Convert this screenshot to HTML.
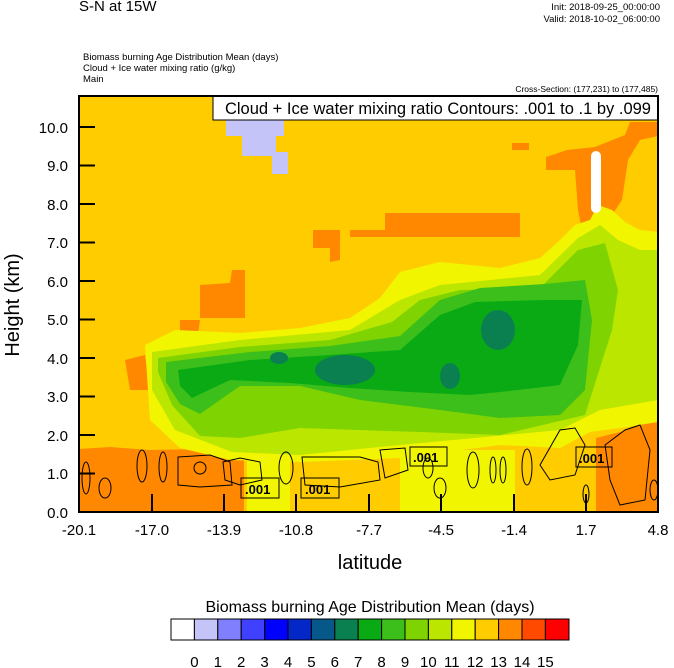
<!DOCTYPE html>
<html><head><meta charset="utf-8"><style>
body{margin:0;background:#fff;width:674px;height:668px;overflow:hidden}
svg{display:block;font-family:"Liberation Sans",sans-serif}
</style></head><body>
<svg width="674" height="668" viewBox="0 0 674 668" xmlns="http://www.w3.org/2000/svg">
<text x="79" y="11" font-size="15">S-N at 15W</text>
<text x="660" y="10" font-size="9.5" text-anchor="end">Init: 2018-09-25_00:00:00</text>
<text x="660" y="22" font-size="9.5" text-anchor="end">Valid: 2018-10-02_06:00:00</text>
<text x="83" y="60" font-size="9.5">Biomass burning Age Distribution Mean   (days)</text>
<text x="83" y="71" font-size="9.5">Cloud + Ice water mixing ratio   (g/kg)</text>
<text x="83" y="82" font-size="9.5">Main</text>
<text x="658" y="92" font-size="8.5" text-anchor="end">Cross-Section: (177,231) to (177,485)</text>
<defs><clipPath id="c"><rect x="79" y="96" width="579" height="416"/></clipPath></defs>
<g clip-path="url(#c)">
<rect x="79" y="96" width="579" height="416" fill="#FFCC00"/>
<rect x="226" y="118" width="58" height="18" fill="#C4C4F8"/>
<rect x="242" y="136" width="34" height="20" fill="#C4C4F8"/>
<rect x="272" y="152" width="16" height="22" fill="#C4C4F8"/>
<path d="M546 157 L567 150 L595 147 L625 135 L630 122 L658 122 L658 136 L640 140 L628 160 L622 200 L610 218 L596 228 L583 236 L578 210 L575 170 L546 170Z" fill="#FF8800"/>
<rect x="512" y="143" width="17" height="7" fill="#FF8800"/>
<path d="M385 213 L520 213 L520 237 L385 237Z" fill="#FF8800"/>
<path d="M313 230 L340 230 L340 260 L330 262 L330 248 L313 248Z" fill="#FF8800"/>
<path d="M350 230 L385 230 L385 237 L350 237Z" fill="#FF8800"/>
<path d="M200 285 L230 283 L232 270 L245 270 L245 318 L200 318Z" fill="#FF8800"/>
<path d="M180 320 L200 320 L195 355 L180 358Z" fill="#FF8800"/>
<path d="M125 360 L145 355 L150 390 L130 390Z" fill="#FF8800"/>
<path d="M79 449 L110 447 L150 450 L200 449 L244 451 L244 512 L79 512Z" fill="#FF8800"/>
<path d="M596 512 L596 438 L620 432 L640 425 L658 420 L658 512Z" fill="#FF8800"/>
<rect x="247" y="455" width="43" height="57" fill="#F2F500"/>
<rect x="400" y="450" width="115" height="62" fill="#F2F500"/>
<path d="M145 345 L175 330 L240 333 L300 328 L350 318 L380 298 L400 272 L440 262 L500 268 L540 258 L560 240 L575 225 L590 220 L598 205 L612 210 L625 222 L640 230 L658 232 L658 422 L620 428 L590 432 L560 448 L500 445 L400 458 L300 462 L230 460 L180 448 L150 420Z" fill="#F2F500"/>
<path d="M152 352 L240 340 L350 330 L400 300 L440 285 L540 275 L578 238 L600 225 L618 240 L640 250 L658 250 L658 400 L600 410 L560 430 L400 445 L300 455 L232 452 L175 430 L152 390Z" fill="#BBE600"/>
<path d="M158 358 L240 347 L330 340 L392 322 L420 300 L460 290 L540 288 L578 250 L605 243 L618 290 L612 330 L585 415 L500 435 L420 432 L300 428 L240 438 L200 436 L172 405 L158 372Z" fill="#7FD300"/>
<path d="M166 362 L250 352 L330 346 L400 336 L440 300 L480 288 L545 284 L585 280 L592 320 L585 390 L560 415 L500 418 L440 410 L360 400 L300 386 L240 386 L200 414 L180 404 L166 382Z" fill="#3CBF1A"/>
<path d="M178 370 L250 360 L330 355 L400 350 L440 315 L475 302 L545 300 L582 300 L578 345 L560 385 L500 392 L470 395 L410 392 L350 388 L290 383 L230 380 L192 398 L180 386Z" fill="#0AAA14"/>
<g fill="#0A8050">
<ellipse cx="498" cy="330" rx="17" ry="20"/>
<ellipse cx="345" cy="370" rx="30" ry="15"/>
<ellipse cx="450" cy="376" rx="10" ry="13"/>
<ellipse cx="279" cy="358" rx="9" ry="6"/>
</g>
<rect x="591" y="151" width="10" height="62" rx="5" fill="#fff"/>
<g fill="none" stroke="#000" stroke-width="1">
<ellipse cx="86" cy="478" rx="4" ry="16"/>
<ellipse cx="105" cy="488" rx="6" ry="10"/>
<ellipse cx="142" cy="466" rx="5" ry="16"/>
<ellipse cx="163" cy="467" rx="4" ry="15"/>
<path d="M178 457 L210 455 L230 462 L232 485 L200 487 L178 485Z"/>
<ellipse cx="200" cy="468" rx="6" ry="6"/>
<path d="M223 462 L240 458 L260 462 L262 480 L240 485 L225 480Z"/>
<ellipse cx="286" cy="468" rx="7" ry="16"/>
<path d="M302 457 L360 457 L378 462 L380 480 L340 487 L305 485Z"/>
<path d="M380 450 L405 448 L408 470 L385 478Z"/>
<ellipse cx="428" cy="468" rx="5" ry="10"/>
<ellipse cx="440" cy="488" rx="6" ry="10"/>
<ellipse cx="473" cy="470" rx="6" ry="18"/>
<ellipse cx="493" cy="470" rx="3" ry="13"/>
<ellipse cx="503" cy="470" rx="3" ry="13"/>
<ellipse cx="527" cy="467" rx="5" ry="18"/>
<path d="M540 465 L560 430 L575 428 L585 445 L575 475 L550 480Z"/>
<ellipse cx="586" cy="494" rx="3" ry="9"/>
<path d="M605 445 L625 430 L640 425 L650 450 L645 500 L620 505 L610 480Z"/>
<ellipse cx="654" cy="490" rx="4" ry="10"/>
</g>
<g font-size="13" font-weight="bold">
<rect x="241" y="478" width="38" height="20" fill="none" stroke="#000"/><text x="245" y="494">.001</text>
<rect x="301" y="478" width="38" height="20" fill="none" stroke="#000"/><text x="305" y="494">.001</text>
<rect x="410" y="447" width="37" height="19" fill="none" stroke="#000"/><text x="413" y="462">.001</text>
<rect x="576" y="447" width="36" height="20" fill="none" stroke="#000"/><text x="579" y="463">.001</text>
</g>
</g>
<rect x="213" y="96" width="445" height="24" fill="#fff" stroke="#000"/>
<text x="651" y="114" font-size="16.5" text-anchor="end">Cloud + Ice water mixing ratio Contours: .001 to .1 by .099</text>
<rect x="79" y="96" width="579" height="416" fill="none" stroke="#000" stroke-width="2"/>
<g stroke="#000" stroke-width="2">
<line x1="79" y1="127" x2="95" y2="127"/><line x1="79" y1="165.5" x2="95" y2="165.5"/><line x1="79" y1="204" x2="95" y2="204"/><line x1="79" y1="242.5" x2="95" y2="242.5"/><line x1="79" y1="281" x2="95" y2="281"/><line x1="79" y1="319.5" x2="95" y2="319.5"/><line x1="79" y1="358" x2="95" y2="358"/><line x1="79" y1="396.5" x2="95" y2="396.5"/><line x1="79" y1="435" x2="95" y2="435"/><line x1="79" y1="473.5" x2="95" y2="473.5"/>
<line x1="152" y1="512" x2="152" y2="494"/><line x1="224" y1="512" x2="224" y2="494"/><line x1="296" y1="512" x2="296" y2="494"/><line x1="369" y1="512" x2="369" y2="494"/><line x1="441" y1="512" x2="441" y2="494"/><line x1="514" y1="512" x2="514" y2="494"/><line x1="586" y1="512" x2="586" y2="494"/>
</g>
<g font-size="15" text-anchor="end">
<text x="68" y="133">10.0</text><text x="68" y="171">9.0</text><text x="68" y="210">8.0</text><text x="68" y="248">7.0</text><text x="68" y="287">6.0</text><text x="68" y="325">5.0</text><text x="68" y="364">4.0</text><text x="68" y="402">3.0</text><text x="68" y="441">2.0</text><text x="68" y="479">1.0</text><text x="68" y="518">0.0</text>
</g>
<g font-size="15" text-anchor="middle">
<text x="79" y="535">-20.1</text><text x="152" y="535">-17.0</text><text x="224" y="535">-13.9</text><text x="296" y="535">-10.8</text><text x="369" y="535">-7.7</text><text x="441" y="535">-4.5</text><text x="514" y="535">-1.4</text><text x="586" y="535">1.7</text><text x="658" y="535">4.8</text>
</g>
<text x="370" y="569" font-size="20" text-anchor="middle">latitude</text>
<text transform="translate(19,305) rotate(-90)" font-size="20" text-anchor="middle">Height (km)</text>
<text x="370" y="612" font-size="16" text-anchor="middle">Biomass burning Age Distribution Mean  (days)</text>
<g stroke="#000" stroke-width="1">
<rect x="171" y="619" width="23.4" height="21" fill="#FFFFFF"/>
<rect x="194.4" y="619" width="23.4" height="21" fill="#C4C4F8"/>
<rect x="217.8" y="619" width="23.4" height="21" fill="#8080FF"/>
<rect x="241.2" y="619" width="23.4" height="21" fill="#4040FF"/>
<rect x="264.6" y="619" width="23.4" height="21" fill="#0000FF"/>
<rect x="288" y="619" width="23.4" height="21" fill="#0428C8"/>
<rect x="311.4" y="619" width="23.4" height="21" fill="#06588A"/>
<rect x="334.8" y="619" width="23.4" height="21" fill="#0A8050"/>
<rect x="358.2" y="619" width="23.4" height="21" fill="#0AAA14"/>
<rect x="381.6" y="619" width="23.4" height="21" fill="#3CBF1A"/>
<rect x="405" y="619" width="23.4" height="21" fill="#7FD300"/>
<rect x="428.4" y="619" width="23.4" height="21" fill="#BBE600"/>
<rect x="451.8" y="619" width="23.4" height="21" fill="#F2F500"/>
<rect x="475.2" y="619" width="23.4" height="21" fill="#FFCC00"/>
<rect x="498.6" y="619" width="23.4" height="21" fill="#FF8800"/>
<rect x="522" y="619" width="23.4" height="21" fill="#FF4A00"/>
<rect x="545.4" y="619" width="23.6" height="21" fill="#FF0000"/>
</g>
<g font-size="15" text-anchor="middle">
<text x="194.4" y="667">0</text><text x="217.8" y="667">1</text><text x="241.2" y="667">2</text><text x="264.6" y="667">3</text><text x="288" y="667">4</text><text x="311.4" y="667">5</text><text x="334.8" y="667">6</text><text x="358.2" y="667">7</text><text x="381.6" y="667">8</text><text x="405" y="667">9</text><text x="428.4" y="667">10</text><text x="451.8" y="667">11</text><text x="475.2" y="667">12</text><text x="498.6" y="667">13</text><text x="522" y="667">14</text><text x="545.4" y="667">15</text>
</g>
</svg>
</body></html>
